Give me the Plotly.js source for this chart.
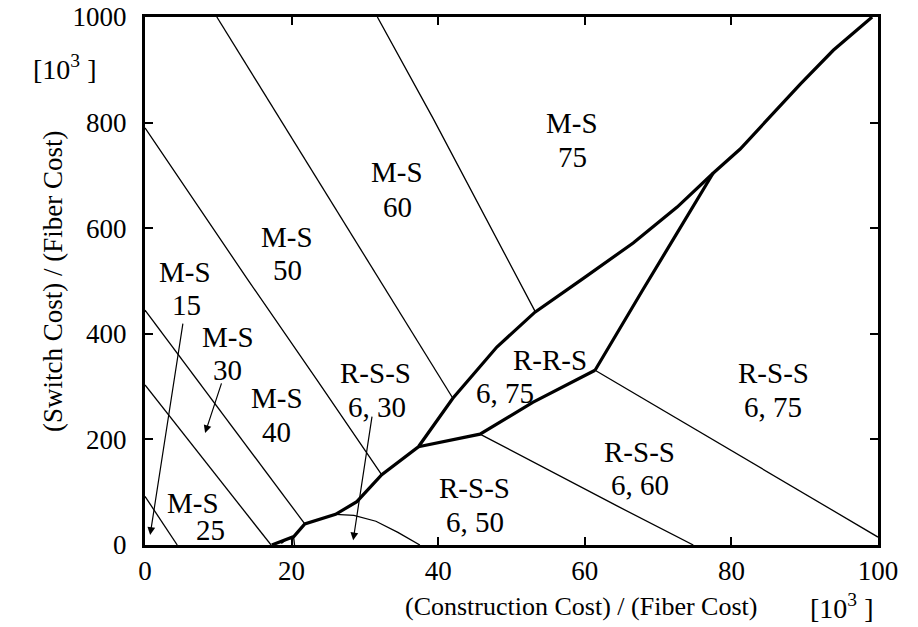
<!DOCTYPE html>
<html>
<head>
<meta charset="utf-8">
<script src="https://cdn.plot.ly/plotly-3.0.1.min.js"></script>
<style>html,body{margin:0;padding:0;background:#fff;}#chart{width:918px;height:627px;}</style>
</head>
<body>
<div id="chart"></div>
<script>
// ---- Thin boundary lines between M-S regions ----
const ms1525X = [0, 4.4];
const ms1525Y = [92, 0];
const ms2530X = [0, 17.2];
const ms2530Y = [303, 0];
const ms3040X = [0, 9.8, 21.8];
const ms3040Y = [445, 262, 40];
const ms4050X = [0, 13.9, 23.5, 32.3];
const ms4050Y = [790, 505, 312, 133];
const ms5060X = [9.8, 16.8, 25.2, 34.8, 42.0];
const ms5060Y = [1000, 843, 653, 439, 278];
const ms6075X = [31.7, 39.3, 53.2];
const ms6075Y = [1000, 808, 443];

// ---- Thick main boundary (M-S vs. R-*-S) ----
const mainX = [17.3, 19.0, 20.3, 21.8, 26.0, 28.9, 32.3, 37.3, 42.0, 48.0, 53.2, 59.8, 66.6, 72.6, 77.5, 81.2, 84.9, 89.4, 93.9, 99.2];
const mainY = [0, 10, 16, 40, 58, 82, 133, 186, 278, 375, 441, 505, 572, 640, 704, 750, 805, 873, 937, 1000];
// ---- Thick R-R-S region boundaries ----
const rrsLowX = [37.3, 45.7, 52.9, 61.4];
const rrsLowY = [186, 210, 270, 331];
const rrsRightX = [61.4, 64.4, 67.9, 72.6, 77.5];
const rrsRightY = [331, 402, 483, 591, 704];

// ---- Thin boundaries between R-S-S regions ----
const rss3050X = [26.0, 28.5, 31.5, 34.5, 37.5];
const rss3050Y = [58, 56, 45, 24, 0];
const rss5060X = [45.7, 53.9, 64.4, 74.8];
const rss5060Y = [210, 150, 74, 0];
const rss6075X = [61.4, 79.8, 100];
const rss6075Y = [331, 180, 15];
const smallLoopX = [18.6, 19.4, 20.3, 20.4];
const smallLoopY = [3, 12, 12, 0];

// ---- Region labels (two text lines each) ----
const labelTop = ["M-S", "M-S", "M-S", "M-S", "M-S", "M-S", "M-S", "R-S-S", "R-R-S", "R-S-S", "R-S-S", "R-S-S"];
const labelBottom = ["15", "25", "30", "40", "50", "60", "75", "6, 30", "6, 75", "6, 50", "6, 60", "6, 75"];
const labelTopX = [5.5, 6.5, 11.3, 18.0, 19.4, 34.4, 58.3, 31.4, 55.3, 45.0, 67.5, 85.7];
const labelTopY = [517, 80, 394, 278, 583, 706, 799, 326, 350, 108, 176, 326];
const labelBottomX = [5.7, 8.9, 11.3, 18.0, 19.5, 34.4, 58.3, 31.7, 49.1, 45.0, 67.5, 85.7];
const labelBottomY = [455, 28, 331, 214, 521, 640, 735, 261, 288, 44, 114, 261];

// ---- Arrows from labels to small regions ----
const arrowTailX = [5.2, 10.5, 31.0];
const arrowTailY = [422, 309, 246];
const arrowHeadX = [0.7, 8.2, 28.4];
const arrowHeadY = [19, 212, 9];

// ---- Axis ticks ----
const xTicks = [0, 20, 40, 60, 80, 100];
const yTicks = [0, 200, 400, 600, 800, 1000];

const FONT = '"Liberation Serif", "Times New Roman", "DejaVu Serif", serif';
const LABEL_SIZE = 29;
const TICK_SIZE = 27;
const TITLE_SIZE = 26;

function thin(x, y) {
  return {x: x, y: y, mode: 'lines', type: 'scatter', line: {color: '#000', width: 1.3}, hoverinfo: 'skip', showlegend: false};
}
function thick(x, y) {
  return {x: x, y: y, mode: 'lines', type: 'scatter', line: {color: '#000', width: 3.2}, hoverinfo: 'skip', showlegend: false};
}

const traces = [
  thin(ms1525X, ms1525Y), thin(ms2530X, ms2530Y), thin(ms3040X, ms3040Y),
  thin(ms4050X, ms4050Y), thin(ms5060X, ms5060Y), thin(ms6075X, ms6075Y),
  thin(rss3050X, rss3050Y), thin(rss5060X, rss5060Y), thin(rss6075X, rss6075Y),
  thin(smallLoopX, smallLoopY),
  thick(mainX, mainY), thick(rrsLowX, rrsLowY), thick(rrsRightX, rrsRightY)
];

const annotations = [];
for (let i = 0; i < labelTop.length; i++) {
  annotations.push({x: labelTopX[i], y: labelTopY[i], xref: 'x', yref: 'y', xanchor: 'center', yanchor: 'middle', text: labelTop[i], showarrow: false, font: {family: FONT, size: LABEL_SIZE, color: '#000'}});
  annotations.push({x: labelBottomX[i], y: labelBottomY[i], xref: 'x', yref: 'y', xanchor: 'center', yanchor: 'middle', text: labelBottom[i], showarrow: false, font: {family: FONT, size: LABEL_SIZE, color: '#000'}});
}
for (let i = 0; i < arrowTailX.length; i++) {
  annotations.push({x: arrowHeadX[i], y: arrowHeadY[i], ax: arrowTailX[i], ay: arrowTailY[i], xref: 'x', yref: 'y', axref: 'x', ayref: 'y', text: '', showarrow: true, arrowhead: 2, arrowsize: 1.3, arrowwidth: 1.2, arrowcolor: '#000'});
}
// axis titles and units
annotations.push({x: 0.595, y: -0.117, xref: 'paper', yref: 'paper', xanchor: 'center', yanchor: 'middle', text: '(Construction Cost) / (Fiber Cost)', showarrow: false, font: {family: FONT, size: TITLE_SIZE, color: '#000'}});
annotations.push({x: 0.95, y: -0.117, xref: 'paper', yref: 'paper', xanchor: 'center', yanchor: 'middle', text: '[10<sup>3</sup> ]', showarrow: false, font: {family: FONT, size: 28, color: '#000'}});
annotations.push({x: -0.1255, y: 0.50, xref: 'paper', yref: 'paper', xanchor: 'center', yanchor: 'middle', text: '(Switch Cost) / (Fiber Cost)', textangle: -90, showarrow: false, font: {family: FONT, size: 27, color: '#000'}});
annotations.push({x: -0.11, y: 0.905, xref: 'paper', yref: 'paper', xanchor: 'center', yanchor: 'middle', text: '[10<sup>3</sup> ]', showarrow: false, font: {family: FONT, size: 28, color: '#000'}});

const layout = {
  width: 918, height: 627,
  margin: {l: 145, r: 40, t: 17, b: 82, pad: 0},
  paper_bgcolor: '#fff', plot_bgcolor: '#fff',
  showlegend: false,
  font: {family: FONT, size: TICK_SIZE, color: '#000'},
  xaxis: {
    range: [0, 100], tickvals: xTicks, ticktext: xTicks.map(String),
    ticks: 'inside', ticklen: 8, tickwidth: 2, tickcolor: '#000',
    showline: true, linewidth: 3, linecolor: '#000', mirror: 'ticks',
    showgrid: false, zeroline: false, ticklabelstandoff: 0,
    tickfont: {family: FONT, size: TICK_SIZE, color: '#000'}
  },
  yaxis: {
    range: [0, 1000], tickvals: yTicks, ticktext: yTicks.map(String),
    ticks: 'inside', ticklen: 8, tickwidth: 2, tickcolor: '#000',
    showline: true, linewidth: 3, linecolor: '#000', mirror: 'ticks',
    showgrid: false, zeroline: false, ticklabelstandoff: 10,
    tickfont: {family: FONT, size: TICK_SIZE, color: '#000'}
  },
  annotations: annotations
};

Plotly.newPlot('chart', traces, layout, {displayModeBar: false, staticPlot: true});
</script>
</body>
</html>
